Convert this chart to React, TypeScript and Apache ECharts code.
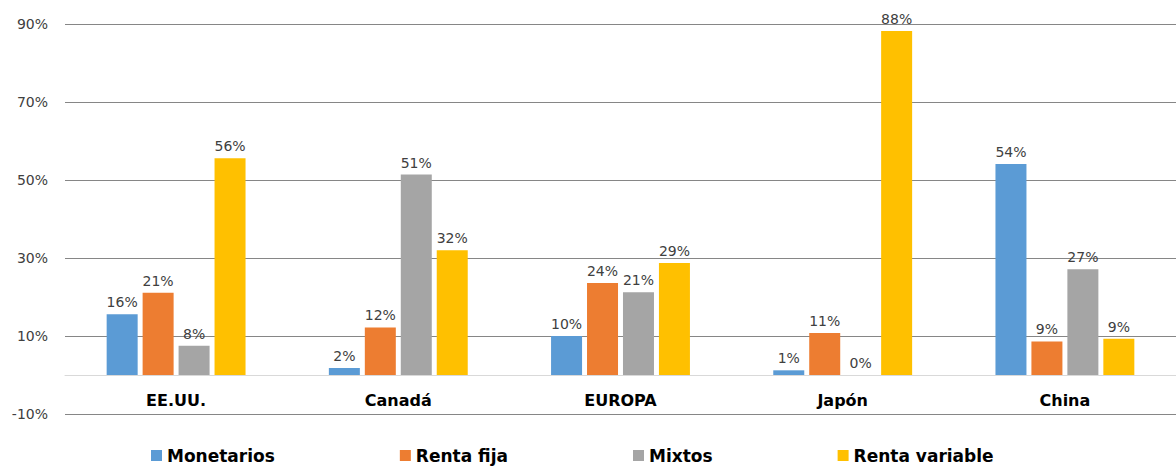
import React, { useEffect, useRef } from "react";
import * as echarts from "echarts";

const categories = ["EE.UU.", "Canadá", "EUROPA", "Japón", "China"];
const seriesNames = ["Monetarios", "Renta fija", "Mixtos", "Renta variable"];
const monetarios = [15.6, 1.8, 10.0, 1.2, 54.1];
const rentaFija = [21.1, 12.2, 23.6, 10.8, 8.6];
const mixtos = [7.5, 51.4, 21.2, 0.0, 27.1];
const rentaVariable = [55.6, 32.0, 28.7, 88.2, 9.3];
const colors = ["#5b9bd5", "#ed7d31", "#a5a5a5", "#ffc000"];
const yMin = -10;
const yMax = 90;
const yStep = 10;

export default function App() {
  const ref = useRef<HTMLDivElement>(null);
  useEffect(() => {
    if (!ref.current) return;
    const chart = echarts.init(ref.current, null, { renderer: "svg" });
    const font = "DejaVu Sans";
    const data = [monetarios, rentaFija, mixtos, rentaVariable];
    chart.setOption({
      animation: false,
      textStyle: { fontFamily: font },
      grid: { left: 65, top: 24, width: 1120, height: 390, containLabel: false },
      legend: {
        data: seriesNames,
        bottom: -1,
        left: 146,
        itemWidth: 11,
        itemHeight: 11,
        itemGap: 125,
        icon: "rect",
        textStyle: { fontFamily: font, fontSize: 17, fontWeight: "bold", color: "#000" },
      },
      xAxis: {
        type: "category",
        data: categories,
        axisLine: { show: true, onZero: true, lineStyle: { color: "#d9d9d9", width: 1 } },
        axisTick: { show: false },
        axisLabel: { margin: -22, fontSize: 16, fontWeight: "bold", color: "#000", fontFamily: font },
      },
      yAxis: {
        type: "value",
        min: yMin,
        max: yMax,
        interval: yStep,
        axisLine: { show: false },
        axisTick: { show: false },
        axisLabel: {
          margin: 17,
          fontSize: 14,
          color: "#404040",
          fontFamily: font,
          formatter: (v: number) => (Math.round(v / yStep) % 2 !== 0 ? `${v}%` : ""),
        },
        splitLine: {
          show: true,
          showMinLine: true,
          showMaxLine: true,
          lineStyle: { color: ["#868686", "rgba(0,0,0,0)"], width: 1 },
        },
      },
      series: seriesNames.map((name, i) => ({
        name,
        type: "bar",
        data: data[i],
        barWidth: 31,
        barGap: "16%",
        itemStyle: { color: colors[i] },
        label: {
          show: true,
          position: "top",
          distance: 5,
          fontSize: 14,
          color: "#404040",
          fontFamily: font,
          formatter: (p: any) => `${Math.round(p.value)}%`,
        },
      })),
    });
    return () => chart.dispose();
  }, []);
  return (
    <div
      ref={ref}
      style={{ position: "fixed", left: 0, top: 0, width: 1176, height: 468, background: "#fff" }}
    />
  );
}
